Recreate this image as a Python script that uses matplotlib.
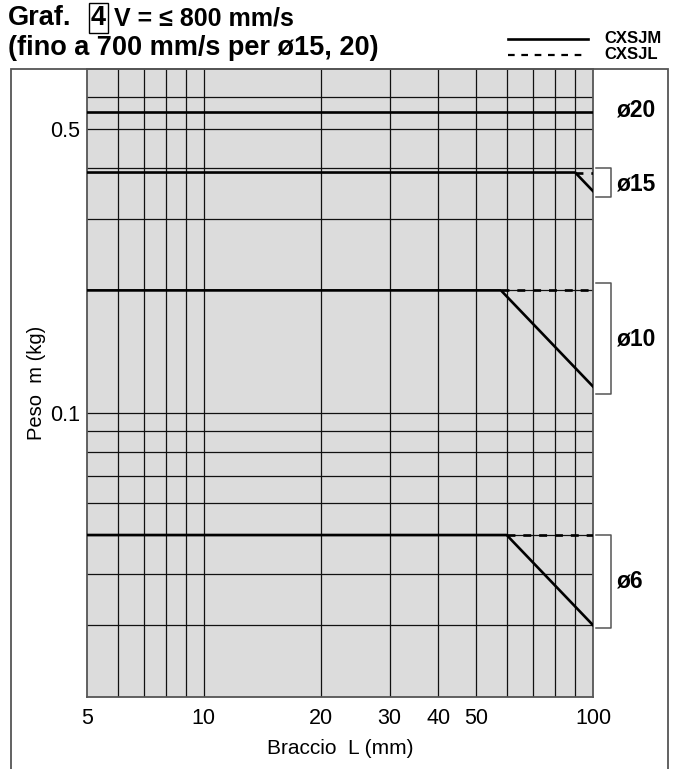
import matplotlib
matplotlib.use("Agg")
import matplotlib.pyplot as plt
from matplotlib.patches import Rectangle
from matplotlib.lines import Line2D

plt.rcParams['font.family'] = ['Liberation Sans', 'DejaVu Sans']

W, H = 684, 769

# data: arm length L (mm) vs load m (kg)
d20_L = [5, 100]
d20_m = [0.55, 0.55]
d15_L = [5, 90, 100]
d15_m = [0.39, 0.39, 0.351]
d15_dash_L = [90, 100]
d15_dash_m = [0.39, 0.39]
d10_L = [5, 58, 100]
d10_m = [0.2, 0.2, 0.116]
d10_dash_L = [58, 100]
d10_dash_m = [0.2, 0.2]
d6_L = [5, 60, 100]
d6_m = [0.05, 0.05, 0.03]
d6_dash_L = [60, 100]
d6_dash_m = [0.05, 0.05]

x_ticks = [5, 10, 20, 30, 40, 50, 100]
x_grid = [6, 7, 8, 9, 10, 20, 30, 40, 50, 60, 70, 80, 90]
y_ticks = [0.1, 0.5]
y_grid = [0.03, 0.04, 0.05, 0.06, 0.07, 0.08, 0.09, 0.1, 0.2, 0.3, 0.4, 0.5, 0.6]

# bracket ranges (kg) and labels on the right
brackets = [(0.34, 0.40, "ø15"), (0.111, 0.209, "ø10"), (0.0296, 0.05, "ø6")]
size_labels = [(0.555, "ø20"), (0.365, "ø15"), (0.152, "ø10"), (0.0385, "ø6")]


def px(x, y):
    # pixel coords -> figure fraction
    return x / W, 1 - y / H


fig = plt.figure(figsize=(W / 100, H / 100), dpi=100)
ax = fig.add_axes([86.7 / W, 1 - 696.7 / H, (593 - 86.7) / W, (696.7 - 69.3) / H])
ax.set_xscale("log")
ax.set_yscale("log")
ax.set_xlim(5, 100)
ax.set_ylim(0.02, 0.7)
ax.set_facecolor("#dcdcdc")

for g in x_grid:
    ax.axvline(g, color="#111111", lw=0.9, zorder=1)
for g in y_grid:
    ax.axhline(g, color="#111111", lw=0.9, zorder=1)

lw = 1.9
ax.plot(d20_L, d20_m, color="black", lw=lw, zorder=3)
ax.plot(d15_L, d15_m, color="black", lw=lw, zorder=3)
ax.plot(d15_dash_L, d15_dash_m, color="black", lw=lw, ls=(0, (3, 3)), zorder=3)
ax.plot(d10_L, d10_m, color="black", lw=lw, zorder=3)
ax.plot(d10_dash_L, d10_dash_m, color="black", lw=lw, ls=(0, (3, 3)), zorder=3)
ax.plot(d6_L, d6_m, color="black", lw=lw, zorder=3)
ax.plot(d6_dash_L, d6_dash_m, color="black", lw=lw, ls=(0, (3, 3)), zorder=3)

ax.set_xticks(x_ticks)
ax.set_xticklabels([str(t) for t in x_ticks])
ax.set_xticks([], minor=True)
ax.set_yticks(y_ticks)
ax.set_yticklabels([str(t) for t in y_ticks])
ax.set_yticks([], minor=True)
ax.tick_params(length=0, labelsize=15.5, pad=8)
ax.tick_params(axis="y", pad=5)
for s in ax.spines.values():
    s.set_color("#555555")
    s.set_linewidth(1.3)

ax.set_xlabel("Braccio  L (mm)", fontsize=15, labelpad=7)
ax.set_ylabel("Peso  m (kg)", fontsize=14.5, labelpad=3)

# brackets to the right of the plot
for lo, hi, _ in brackets:
    ax.plot([1.005, 1.035, 1.035, 1.005], [hi, hi, lo, lo], color="#555555", lw=1.1,
            transform=ax.get_yaxis_transform(), clip_on=False)
for m, lab in size_labels:
    ax.text(1.045, m, lab, transform=ax.get_yaxis_transform(), fontsize=16.5,
            fontweight="bold", va="center", ha="left")

# outer frame
fig.patches.append(Rectangle(px(11, 800), (668 - 11) / W, (800 - 69.3) / H,
                             transform=fig.transFigure, fill=False,
                             edgecolor="#555555", lw=1.3))

# title
fs_t = 19.5
fig.text(*px(8, 18), "Graf.", fontsize=fs_t, fontweight="bold", va="center")
fig.text(*px(91, 18), "4", fontsize=fs_t, fontweight="bold", va="center",
         bbox=dict(boxstyle="square,pad=0.06", fc="white", ec="black", lw=1.0))
fig.text(*px(114, 18), "V = ≤ 800 mm/s", fontsize=18, fontweight="bold", va="center")
fig.text(*px(8, 48), "(fino a 700 mm/s per ø15, 20)", fontsize=fs_t,
         fontweight="bold", va="center")

# legend
fig.add_artist(Line2D([508 / W, 588 / W], [1 - 39 / H, 1 - 39 / H], color="black", lw=1.9))
fig.add_artist(Line2D([508 / W, 588 / W], [1 - 55 / H, 1 - 55 / H], color="black",
                      lw=1.6, ls=(0, (3, 3))))
fig.text(*px(604, 38.5), "CXSJM", fontsize=12, fontweight="bold", va="center")
fig.text(*px(604, 54.5), "CXSJL", fontsize=12, fontweight="bold", va="center")

fig.savefig("out.png", dpi=100)
